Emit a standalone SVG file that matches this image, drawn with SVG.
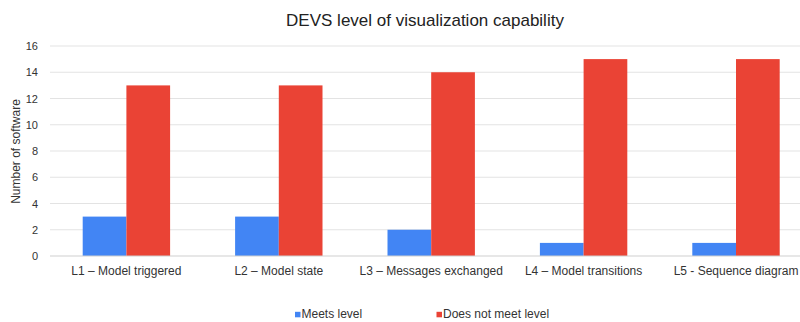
<svg xmlns="http://www.w3.org/2000/svg" width="800" height="322" viewBox="0 0 800 322">
<style>
text{font-family:"Liberation Sans",Arial,sans-serif;fill:#333}
.grid{stroke:#e3e3e3;stroke-width:1}
.base{stroke:#cfcfcf;stroke-width:1}
.tick{font-size:11px;text-anchor:end}
.cat{font-size:12px;text-anchor:middle}
.leg{font-size:12px}
.b{fill:#4285F4}
.r{fill:#EA4335}
</style>
<rect width="800" height="322" fill="#fff"/>
<text id="title" x="425" y="26" text-anchor="middle" style="font-size:17px;fill:#222">DEVS level of visualization capability</text>
<g id="gridlines">
<line class="grid" x1="50" y1="46" x2="800" y2="46"/>
<line class="grid" x1="50" y1="72.25" x2="800" y2="72.25"/>
<line class="grid" x1="50" y1="98.5" x2="800" y2="98.5"/>
<line class="grid" x1="50" y1="124.75" x2="800" y2="124.75"/>
<line class="grid" x1="50" y1="151" x2="800" y2="151"/>
<line class="grid" x1="50" y1="177.25" x2="800" y2="177.25"/>
<line class="grid" x1="50" y1="203.5" x2="800" y2="203.5"/>
<line class="grid" x1="50" y1="229.75" x2="800" y2="229.75"/>
</g>
<g id="yticks">
<text class="tick" x="38" y="50">16</text>
<text class="tick" x="38" y="76.25">14</text>
<text class="tick" x="38" y="102.5">12</text>
<text class="tick" x="38" y="128.75">10</text>
<text class="tick" x="38" y="155">8</text>
<text class="tick" x="38" y="181.25">6</text>
<text class="tick" x="38" y="207.5">4</text>
<text class="tick" x="38" y="233.75">2</text>
<text class="tick" x="38" y="260">0</text>
</g>
<text id="ytitle" transform="translate(19.5,151.5) rotate(-90)" text-anchor="middle" style="font-size:12px">Number of software</text>
<g id="bars">
<g id="L1"><rect class="b" x="82.7" y="216.6" width="43.7" height="39.4"/><rect class="r" x="126.4" y="85.4" width="43.7" height="170.6"/></g>
<g id="L2"><rect class="b" x="235.1" y="216.6" width="43.7" height="39.4"/><rect class="r" x="278.8" y="85.4" width="43.7" height="170.6"/></g>
<g id="L3"><rect class="b" x="387.5" y="229.75" width="43.7" height="26.25"/><rect class="r" x="431.2" y="72.25" width="43.7" height="183.75"/></g>
<g id="L4"><rect class="b" x="539.9" y="242.9" width="43.7" height="13.1"/><rect class="r" x="583.6" y="59.1" width="43.7" height="196.9"/></g>
<g id="L5"><rect class="b" x="692.3" y="242.9" width="43.7" height="13.1"/><rect class="r" x="736" y="59.1" width="43.7" height="196.9"/></g>
</g>
<line id="baseline" class="base" x1="50" y1="256" x2="800" y2="256"/>
<g id="xlabels">
<text class="cat" x="126.4" y="275">L1 – Model triggered</text>
<text class="cat" x="278.8" y="275">L2 – Model state</text>
<text class="cat" x="431.2" y="275">L3 – Messages exchanged</text>
<text class="cat" x="583.6" y="275">L4 – Model transitions</text>
<text class="cat" x="736" y="275">L5 - Sequence diagram</text>
</g>
<g id="legend">
<rect class="b" x="295" y="311.8" width="5.5" height="5.5"/>
<text class="leg" x="301.5" y="317.8">Meets level</text>
<rect class="r" x="436.5" y="311.8" width="5.5" height="5.5"/>
<text class="leg" x="443" y="317.8">Does not meet level</text>
</g>
</svg>
